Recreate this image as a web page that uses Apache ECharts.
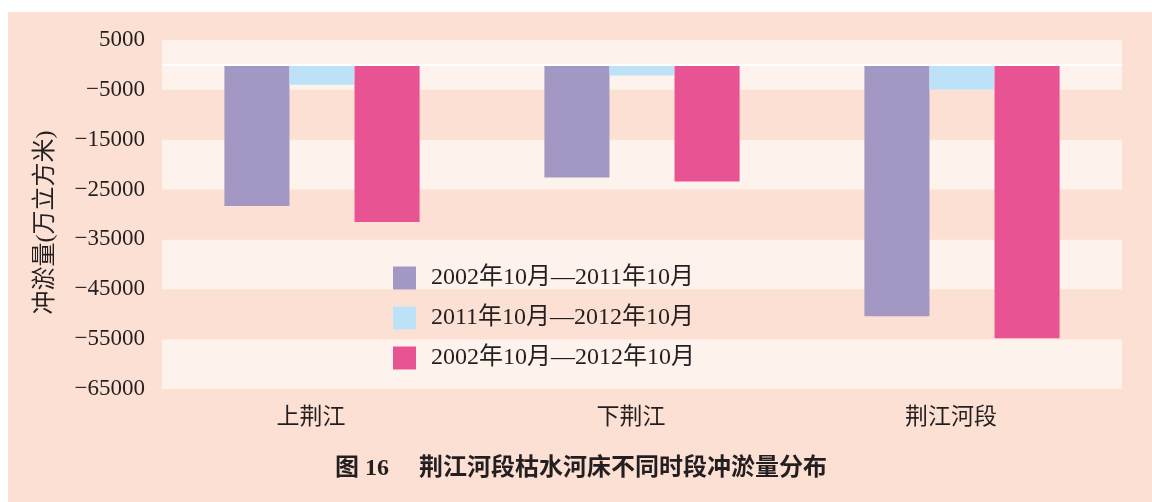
<!DOCTYPE html>
<html>
<head>
<meta charset="utf-8">
<title>荆江河段枯水河床不同时段冲淤量分布</title>
<script src="https://cdn.jsdelivr.net/npm/echarts@6/dist/echarts.min.js"></script>
<style>
  html, body { margin: 0; padding: 0; background: #ffffff; }
  #chart { position: absolute; left: 8px; top: 12px; width: 1144px; height: 490px; }
</style>
</head>
<body>
<div id="chart"></div>
<script>
// Reaches of the Jingjiang river
const categories = ['上荆江', '下荆江', '荆江河段'];

// Scour (-) / deposition (+) of the low-water channel, 10^4 m³
const seriesNames = ['2002年10月—2011年10月', '2011年10月—2012年10月', '2002年10月—2012年10月'];
const period2002to2011 = [-28300, -22600, -50400];
const period2011to2012 = [-4000, -2100, -5000];
const period2002to2012 = [-31500, -23400, -54800];

// Value axis ticks
const yMin = -65000;
const yMax = 5000;
const yStep = 10000;

const serif = '"Liberation Serif", "Noto Sans CJK SC", serif';
const textColor = '#231f20';
const colors = ['#a398c4', '#bde2f8', '#e85493'];

const chart = echarts.init(document.getElementById('chart'));

const seriesValues = [period2002to2011, period2011to2012, period2002to2012];

const series = seriesValues.map((vals, i) => ({
  name: seriesNames[i],
  type: 'bar',
  data: vals,
  barGap: '0%',
  barCategoryGap: '39%',
  itemStyle: { color: colors[i] },
  silent: true
}));

// white zero line across the plot
series[0].markLine = {
  silent: true,
  symbol: 'none',
  label: { show: false },
  lineStyle: { color: '#ffffff', width: 2, type: 'solid' },
  data: [{ yAxis: 0 }]
};

chart.setOption({
  backgroundColor: '#fde0d4',
  animation: false,
  title: {
    text: '图 16\u3000 荆江河段枯水河床不同时段冲淤量分布',
    left: 327,
    top: 445,
    padding: 0,
    textStyle: {
      fontFamily: serif,
      fontWeight: 'bold',
      fontSize: 24,
      color: textColor
    }
  },
  legend: {
    orient: 'vertical',
    left: 385,
    top: 254,
    padding: 0,
    itemWidth: 23,
    itemHeight: 23,
    itemGap: 16,
    icon: 'rect',
    selectedMode: false,
    data: seriesNames,
    textStyle: {
      fontFamily: serif,
      fontSize: 24,
      color: textColor,
      padding: [0, 0, 0, 10]
    }
  },
  grid: {
    left: 154,
    top: 28,
    width: 960,
    height: 349,
    containLabel: false
  },
  xAxis: {
    type: 'category',
    data: categories,
    axisLine: { show: false },
    axisTick: { show: false },
    axisLabel: {
      margin: 17,
      fontFamily: serif,
      fontSize: 23,
      color: textColor,
      padding: [0, 22, 0, 0]
    }
  },
  yAxis: {
    type: 'value',
    min: yMin,
    max: yMax,
    interval: yStep,
    name: '冲淤量(万立方米)',
    nameLocation: 'middle',
    nameRotate: 90,
    nameGap: 104,
    nameTextStyle: {
      fontFamily: serif,
      fontSize: 24,
      color: textColor,
      padding: [0, 16, 0, 0]
    },
    axisLine: { show: false },
    axisTick: { show: false },
    splitLine: { show: false },
    splitArea: {
      show: true,
      areaStyle: { color: ['#fef2ed', '#fde0d4'] }
    },
    axisLabel: {
      margin: 17,
      fontFamily: serif,
      fontSize: 23,
      color: textColor,
      formatter: v => (v < 0 ? '\u2212' + Math.abs(v) : String(v))
    }
  },
  series: series
});
</script>
</body>
</html>
